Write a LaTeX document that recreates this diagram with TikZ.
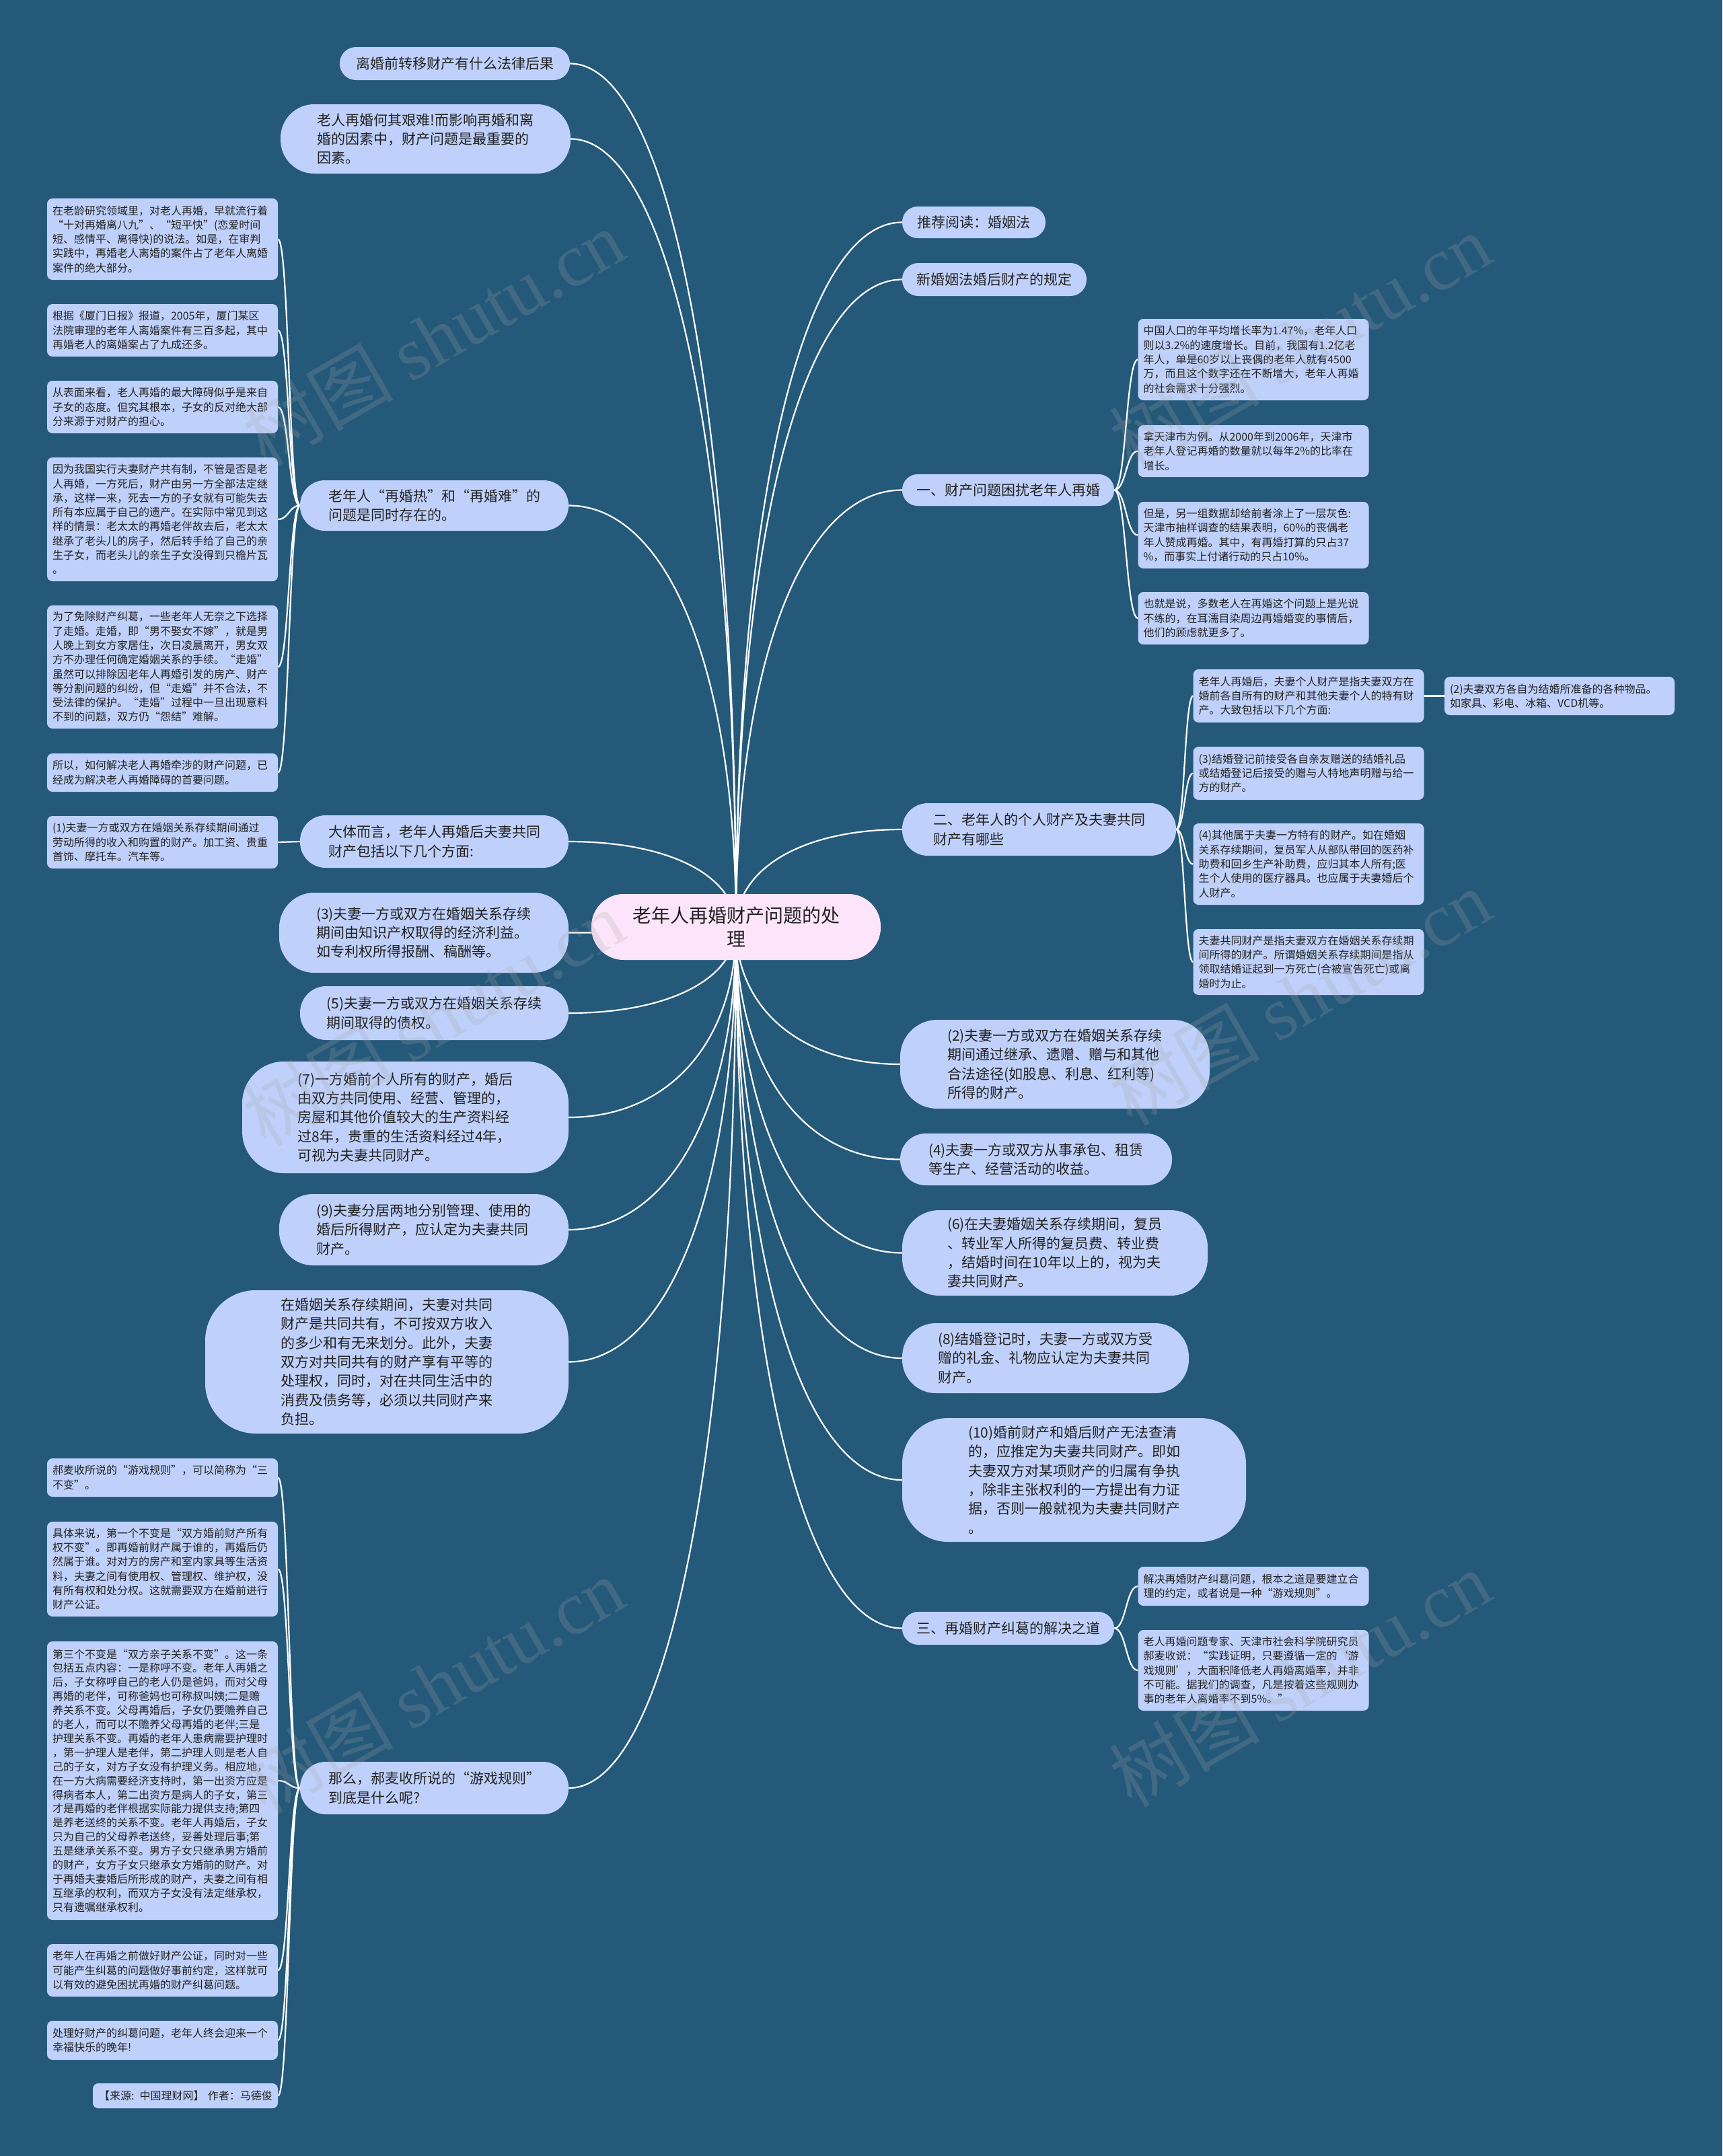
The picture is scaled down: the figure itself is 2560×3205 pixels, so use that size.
\documentclass[tikz,border=0pt]{standalone}
\usepackage{fontspec}
\setmainfont{Noto Sans CJK SC}
\newfontfamily\wmserif{Liberation Serif}
\usetikzlibrary{calc}
\pgfdeclarelayer{bg}
\pgfdeclarelayer{edges}
\pgfdeclarelayer{wm}
\pgfsetlayers{bg,edges,main,wm}
\definecolor{bgblue}{RGB}{37,89,122}
\definecolor{nodeblue}{RGB}{191,209,250}
\definecolor{rootpink}{RGB}{252,228,250}
\definecolor{textc}{RGB}{34,34,34}
\tikzset{
  mainnode/.style={fill=nodeblue, text=textc, align=left, inner sep=0pt,
    font=\fontsize{21}{28.3}\selectfont},
  rootnode/.style={fill=rootpink, text=textc, align=center, inner sep=0pt,
    rounded corners=48pt, minimum width=430pt, minimum height=98pt,
    font=\fontsize{28}{35}\selectfont},
  leafnode/.style={fill=nodeblue, text=textc, align=left, inner xsep=8pt, inner ysep=0pt,
    rounded corners=8pt, text width=327pt, font=\fontsize{16}{21.3}\selectfont},
  link/.style={draw=white, line width=2.2pt},
  rootlink/.style={to path={let \p1=(\tikztostart), \p2=(\tikztotarget) in
    .. controls (\x1, {\y2+0.4*(\y1-\y2)}) and ({\x2+0.6*(\x1-\x2)}, \y2) .. (\tikztotarget)}},
  sublink/.style={to path={let \p1=(\tikztostart), \p2=(\tikztotarget) in
    .. controls ({(\x1+\x2)/2}, \y1) and ({(\x1+\x2)/2}, \y2) .. (\tikztotarget)}},
  wmark/.style={rotate=30, text=gray!70, text opacity=0.22, inner sep=0pt,
    font=\fontsize{112}{112}\selectfont}
}
\begin{document}
\begin{tikzpicture}[x=1pt,y=-1pt]
\begin{pgfonlayer}{bg}
\fill[bgblue] (0,0) rectangle (2560,3205);
\end{pgfonlayer}
\path[use as bounding box] (0,0) rectangle (2560,3205);

% root
\node[rootnode] (root) at (1094,1378) {老年人再婚财产问题的处\\理};

% left main nodes
\node[mainnode, minimum width=342pt, minimum height=49pt, rounded corners=24pt] (la) at (676,94.5) {离婚前转移财产有什么法律后果};
\node[mainnode, minimum width=431pt, minimum height=103pt, rounded corners=50pt] (lb) at (632.5,206.5) {老人再婚何其艰难!而影响再婚和离\\婚的因素中，财产问题是最重要的\\因素。};
\node[mainnode, minimum width=399pt, minimum height=75pt, rounded corners=37pt] (lc) at (645.5,751.5) {老年人“再婚热”和“再婚难”的\\问题是同时存在的。};
\node[mainnode, minimum width=399pt, minimum height=78pt, rounded corners=38pt] (ld) at (645.5,1251) {大体而言，老年人再婚后夫妻共同\\财产包括以下几个方面:};
\node[mainnode, minimum width=430pt, minimum height=119pt, rounded corners=52pt] (le) at (630,1386.5) {(3)夫妻一方或双方在婚姻关系存续\\期间由知识产权取得的经济利益。\\如专利权所得报酬、稿酬等。};
\node[mainnode, minimum width=399pt, minimum height=80pt, rounded corners=39pt] (lf) at (645.5,1506) {(5)夫妻一方或双方在婚姻关系存续\\期间取得的债权。};
\node[mainnode, minimum width=485pt, minimum height=166pt, rounded corners=62pt] (lg) at (602.5,1661) {(7)一方婚前个人所有的财产，婚后\\由双方共同使用、经营、管理的，\\房屋和其他价值较大的生产资料经\\过8年，贵重的生活资料经过4年，\\可视为夫妻共同财产。};
\node[mainnode, minimum width=430pt, minimum height=106pt, rounded corners=50pt] (lh) at (630,1828) {(9)夫妻分居两地分别管理、使用的\\婚后所得财产，应认定为夫妻共同\\财产。};
\node[mainnode, minimum width=540pt, minimum height=213pt, rounded corners=75pt] (li) at (575,2024.5) {在婚姻关系存续期间，夫妻对共同\\财产是共同共有，不可按双方收入\\的多少和有无来划分。此外，夫妻\\双方对共同共有的财产享有平等的\\处理权，同时，对在共同生活中的\\消费及债务等，必须以共同财产来\\负担。};
\node[mainnode, minimum width=399pt, minimum height=78pt, rounded corners=38pt] (lj) at (645.5,2658) {那么，郝麦收所说的“游戏规则”\\到底是什么呢?};

% left leaves of lc
\node[leafnode, minimum height=121pt] (lc1) at (241.5,355.5) {在老龄研究领域里，对老人再婚，早就流行着\\“十对再婚离八九”、“短平快”(恋爱时间\\短、感情平、离得快)的说法。如是，在审判\\实践中，再婚老人离婚的案件占了老年人离婚\\案件的绝大部分。};
\node[leafnode, minimum height=78pt] (lc2) at (241.5,491) {根据《厦门日报》报道，2005年，厦门某区\\法院审理的老年人离婚案件有三百多起，其中\\再婚老人的离婚案占了九成还多。};
\node[leafnode, minimum height=78pt] (lc3) at (241.5,605) {从表面来看，老人再婚的最大障碍似乎是来自\\子女的态度。但究其根本，子女的反对绝大部\\分来源于对财产的担心。};
\node[leafnode, minimum height=184pt] (lc4) at (241.5,772) {因为我国实行夫妻财产共有制，不管是否是老\\人再婚，一方死后，财产由另一方全部法定继\\承，这样一来，死去一方的子女就有可能失去\\所有本应属于自己的遗产。在实际中常见到这\\样的情景：老太太的再婚老伴故去后，老太太\\继承了老头儿的房子，然后转手给了自己的亲\\生子女，而老头儿的亲生子女没得到只檐片瓦\\。};
\node[leafnode, minimum height=183pt] (lc5) at (241.5,991.5) {为了免除财产纠葛，一些老年人无奈之下选择\\了走婚。走婚，即“男不娶女不嫁”，就是男\\人晚上到女方家居住，次日凌晨离开，男女双\\方不办理任何确定婚姻关系的手续。“走婚”\\虽然可以排除因老年人再婚引发的房产、财产\\等分割问题的纠纷，但“走婚”并不合法，不\\受法律的保护。“走婚”过程中一旦出现意料\\不到的问题，双方仍“怨结”难解。};
\node[leafnode, minimum height=57pt] (lc6) at (241.5,1148.5) {所以，如何解决老人再婚牵涉的财产问题，已\\经成为解决老人再婚障碍的首要问题。};
% leaf of ld
\node[leafnode, minimum height=78pt] (ld1) at (241.5,1252) {(1)夫妻一方或双方在婚姻关系存续期间通过\\劳动所得的收入和购置的财产。加工资、贵重\\首饰、摩托车。汽车等。};
% leaves of lj
\node[leafnode, minimum height=57pt] (lj1) at (241.5,2196.5) {郝麦收所说的“游戏规则”，可以简称为“三\\不变”。};
\node[leafnode, minimum height=141pt] (lj2) at (241.5,2332.5) {具体来说，第一个不变是“双方婚前财产所有\\权不变”。即再婚前财产属于谁的，再婚后仍\\然属于谁。对对方的房产和室内家具等生活资\\料，夫妻之间有使用权、管理权、维护权，没\\有所有权和处分权。这就需要双方在婚前进行\\财产公证。};
\node[leafnode, minimum height=414pt, font=\fontsize{16}{20.9}\selectfont] (lj3) at (241.5,2647) {第三个不变是“双方亲子关系不变”。这一条\\包括五点内容：一是称呼不变。老年人再婚之\\后，子女称呼自己的老人仍是爸妈，而对父母\\再婚的老伴，可称爸妈也可称叔叫姨;二是赡\\养关系不变。父母再婚后，子女仍要赡养自己\\的老人，而可以不赡养父母再婚的老伴;三是\\护理关系不变。再婚的老年人患病需要护理时\\，第一护理人是老伴，第二护理人则是老人自\\己的子女，对方子女没有护理义务。相应地，\\在一方大病需要经济支持时，第一出资方应是\\得病者本人，第二出资方是病人的子女，第三\\才是再婚的老伴根据实际能力提供支持;第四\\是养老送终的关系不变。老年人再婚后，子女\\只为自己的父母养老送终，妥善处理后事;第\\五是继承关系不变。男方子女只继承男方婚前\\的财产，女方子女只继承女方婚前的财产。对\\于再婚夫妻婚后所形成的财产，夫妻之间有相\\互继承的权利，而双方子女没有法定继承权，\\只有遗嘱继承权利。};
\node[leafnode, minimum height=78pt] (lj4) at (241.5,2929) {老年人在再婚之前做好财产公证，同时对一些\\可能产生纠葛的问题做好事前约定，这样就可\\以有效的避免困扰再婚的财产纠葛问题。};
\node[leafnode, minimum height=58pt] (lj5) at (241.5,3033) {处理好财产的纠葛问题，老年人终会迎来一个\\幸福快乐的晚年!};
\node[leafnode, minimum height=37pt, text width=259pt, align=right] (lj6) at (275.5,3115.5) {【来源: 中国理财网】 作者：马德俊};

% right main nodes
\node[mainnode, minimum width=213pt, minimum height=47pt, rounded corners=23pt] (ra) at (1447.5,330.5) {推荐阅读：婚姻法};
\node[mainnode, minimum width=274pt, minimum height=49pt, rounded corners=24pt] (rb) at (1478,415.5) {新婚姻法婚后财产的规定};
\node[mainnode, minimum width=315pt, minimum height=47pt, rounded corners=23pt] (rc) at (1498.5,728.5) {一、财产问题困扰老年人再婚};
\node[mainnode, minimum width=407pt, minimum height=78pt, rounded corners=38pt] (rd) at (1544.5,1233) {二、老年人的个人财产及夫妻共同\\财产有哪些};
\node[mainnode, minimum width=460pt, minimum height=132pt, rounded corners=55pt] (re) at (1568,1582) {(2)夫妻一方或双方在婚姻关系存续\\期间通过继承、遗赠、赠与和其他\\合法途径(如股息、利息、红利等)\\所得的财产。};
\node[mainnode, minimum width=404pt, minimum height=77pt, rounded corners=38pt] (rf) at (1540,1723.5) {(4)夫妻一方或双方从事承包、租赁\\等生产、经营活动的收益。};
\node[mainnode, minimum width=454pt, minimum height=127pt, rounded corners=55pt] (rg) at (1568,1862.5) {(6)在夫妻婚姻关系存续期间，复员\\、转业军人所得的复员费、转业费\\，结婚时间在10年以上的，视为夫\\妻共同财产。};
\node[mainnode, minimum width=426pt, minimum height=104pt, rounded corners=50pt] (rh) at (1554,2019) {(8)结婚登记时，夫妻一方或双方受\\赠的礼金、礼物应认定为夫妻共同\\财产。};
\node[mainnode, minimum width=511pt, minimum height=184pt, rounded corners=68pt] (ri) at (1596.5,2200) {(10)婚前财产和婚后财产无法查清\\的，应推定为夫妻共同财产。即如\\夫妻双方对某项财产的归属有争执\\，除非主张权利的一方提出有力证\\据，否则一般就视为夫妻共同财产\\。};
\node[mainnode, minimum width=315pt, minimum height=49pt, rounded corners=24pt] (rj) at (1498.5,2420.5) {三、再婚财产纠葛的解决之道};

% right leaves of rc
\node[leafnode, minimum height=121pt] (rc1) at (1863,534.5) {中国人口的年平均增长率为1.47\%，老年人口\\则以3.2\%的速度增长。目前，我国有1.2亿老\\年人，单是60岁以上丧偶的老年人就有4500\\万，而且这个数字还在不断增大，老年人再婚\\的社会需求十分强烈。};
\node[leafnode, minimum height=77pt] (rc2) at (1863,670.5) {拿天津市为例。从2000年到2006年，天津市\\老年人登记再婚的数量就以每年2\%的比率在\\增长。};
\node[leafnode, minimum height=99pt] (rc3) at (1863,795.5) {但是，另一组数据却给前者涂上了一层灰色:\\天津市抽样调查的结果表明，60\%的丧偶老\\年人赞成再婚。其中，有再婚打算的只占37\\\%，而事实上付诸行动的只占10\%。};
\node[leafnode, minimum height=78pt] (rc4) at (1863,919) {也就是说，多数老人在再婚这个问题上是光说\\不练的，在耳濡目染周边再婚婚变的事情后，\\他们的顾虑就更多了。};
% right leaves of rd
\node[leafnode, minimum height=79pt] (rd1) at (1945,1034.5) {老年人再婚后，夫妻个人财产是指夫妻双方在\\婚前各自所有的财产和其他夫妻个人的特有财\\产。大致包括以下几个方面:};
\node[leafnode, minimum height=57pt, text width=326pt] (rd1a) at (2318,1034.5) {(2)夫妻双方各自为结婚所准备的各种物品。\\如家具、彩电、冰箱、VCD机等。};
\node[leafnode, minimum height=79pt] (rd2) at (1945,1149.5) {(3)结婚登记前接受各自亲友赠送的结婚礼品\\或结婚登记后接受的赠与人特地声明赠与给一\\方的财产。};
\node[leafnode, minimum height=121pt] (rd3) at (1945,1284.5) {(4)其他属于夫妻一方特有的财产。如在婚姻\\关系存续期间，复员军人从部队带回的医药补\\助费和回乡生产补助费，应归其本人所有;医\\生个人使用的医疗器具。也应属于夫妻婚后个\\人财产。};
\node[leafnode, minimum height=98pt] (rd4) at (1945,1430) {夫妻共同财产是指夫妻双方在婚姻关系存续期\\间所得的财产。所谓婚姻关系存续期间是指从\\领取结婚证起到一方死亡(合被宣告死亡)或离\\婚时为止。};
% right leaves of rj
\node[leafnode, minimum height=58pt] (rj1) at (1863,2358) {解决再婚财产纠葛问题，根本之道是要建立合\\理的约定，或者说是一种“游戏规则”。};
\node[leafnode, minimum height=120pt] (rj2) at (1863,2483) {老人再婚问题专家、天津市社会科学院研究员\\郝麦收说：“实践证明，只要遵循一定的‘游\\戏规则’，大面积降低老人再婚离婚率，并非\\不可能。据我们的调查，凡是按着这些规则办\\事的老年人离婚率不到5\%。”};

% connectors
\begin{pgfonlayer}{edges}
\foreach \nm in {la,lb,lc,ld,le,lf,lg,lh,li,lj}
  \draw[link, rootlink] (root.center) to (\nm.east);
\foreach \nm in {ra,rb,rc,rd,re,rf,rg,rh,ri,rj}
  \draw[link, rootlink] (root.center) to (\nm.west);
\foreach \nm in {lc1,lc2,lc3,lc4,lc5,lc6}
  \draw[link, sublink] (lc.west) to (\nm.east);
\draw[link, sublink] (ld.west) to (ld1.east);
\foreach \nm in {lj1,lj2,lj3,lj4,lj5,lj6}
  \draw[link, sublink] (lj.west) to (\nm.east);
\foreach \nm in {rc1,rc2,rc3,rc4}
  \draw[link, sublink] (rc.east) to (\nm.west);
\foreach \nm in {rd1,rd2,rd3,rd4}
  \draw[link, sublink] (rd.east) to (\nm.west);
\draw[link] (rd1.east) -- (rd1a.west);
\foreach \nm in {rj1,rj2}
  \draw[link, sublink] (rj.east) to (\nm.west);
\end{pgfonlayer}

% watermarks
\begin{pgfonlayer}{wm}
\node[wmark] (wm1) at (644,501) {树图 {\wmserif shutu.cn}};
\node[wmark] (wm2) at (1932,507) {树图 {\wmserif shutu.cn}};
\node[wmark] (wm3) at (644,1513) {树图 {\wmserif shutu.cn}};
\node[wmark] (wm4) at (1932,1482) {树图 {\wmserif shutu.cn}};
\node[wmark] (wm5) at (644,2505) {树图 {\wmserif shutu.cn}};
\node[wmark] (wm6) at (1932,2495) {树图 {\wmserif shutu.cn}};
\end{pgfonlayer}
\end{tikzpicture}
\end{document}
